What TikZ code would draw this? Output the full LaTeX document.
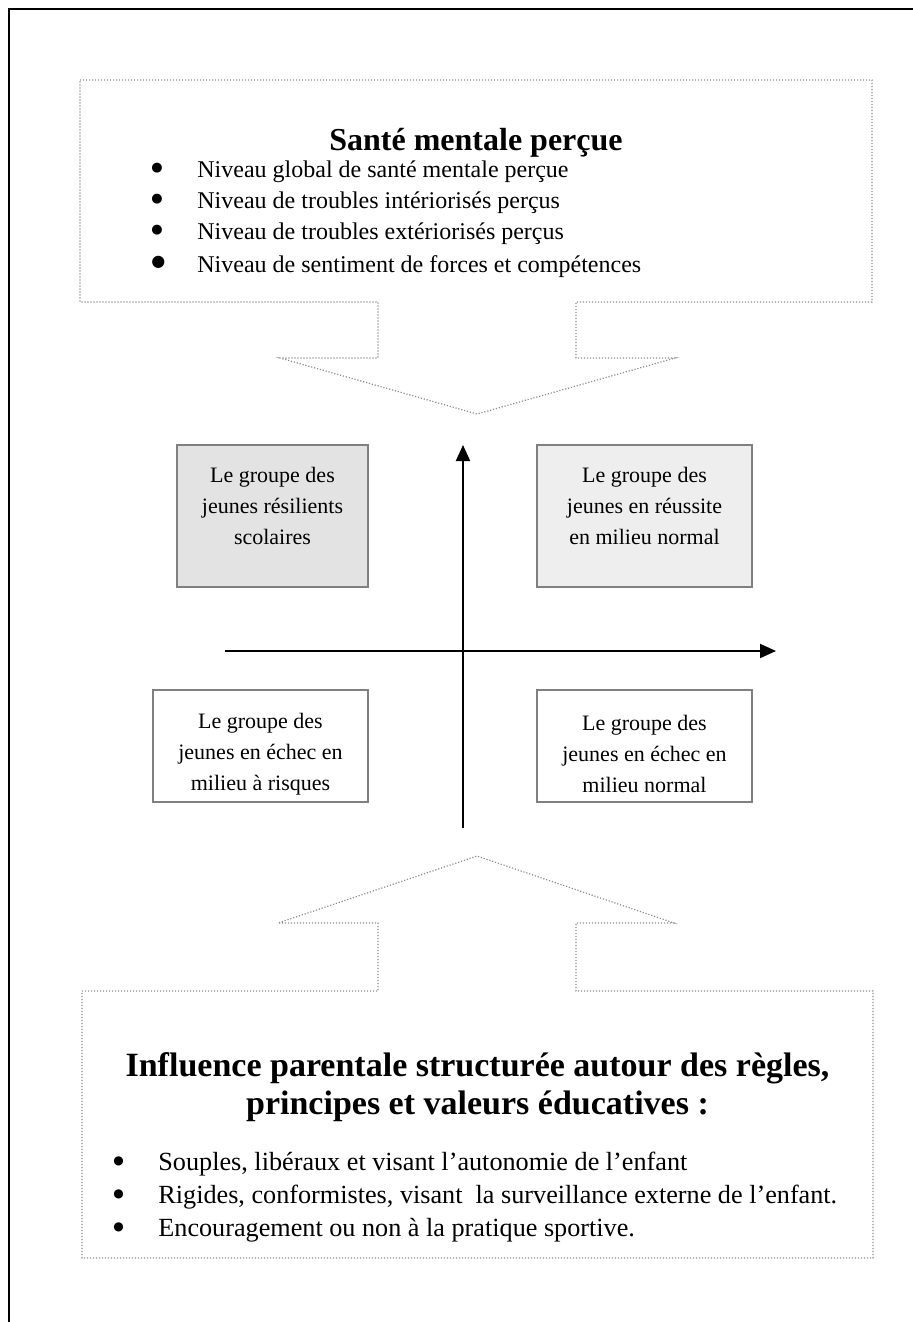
\documentclass[tikz,border=0pt]{standalone}
\usepackage{fontspec}
\setmainfont{Liberation Serif}
\newfontfamily\symfont{DejaVu Sans}
\usetikzlibrary{arrows.meta}
\newcommand\blt[1]{\raisebox{2.6pt}{\symfont\fontsize{#1}{0}\selectfont ●}}

\begin{document}
\begin{tikzpicture}[x=0.5pt,y=-0.5pt,
  callout/.style={draw=gray!90, line width=0.6pt, dash pattern=on 0.6pt off 0.9pt},
  groupbox/.style={draw=gray, line width=0.7pt},
  grouptext/.style={align=center, font=\fontsize{11}{15.5}\selectfont},
  axis/.style={line width=1pt, -{Triangle[length=8pt,width=7pt]}}]
\useasboundingbox (0,0) rectangle (913,1322);
% page frame
\draw[line width=1.2pt] (9,1322) -- (9,9) -- (913,9);

% top callout, pointing down
\draw[callout] (80,80) -- (872,80) -- (872,302) -- (576,302) -- (576,358) -- (675,358)
  -- (477,414) -- (280,358) -- (378,358) -- (378,302) -- (80,302) -- cycle;
\node[anchor=base, font=\bfseries\fontsize{16}{19}\selectfont] (santetitle) at (476,150) {Santé mentale perçue};
\node[anchor=base west, inner sep=0, font=\fontsize{12}{15.5}\selectfont] (santelist) at (151,177) {%
  \begin{tabular}[t]{@{}p{23pt}@{}l@{}}
  \blt{6.5} & Niveau global de santé mentale perçue\\
  \blt{6.5} & Niveau de troubles intériorisés perçus\\
  \blt{6.5} & Niveau de troubles extériorisés perçus\\[1pt]
  \blt{8} & Niveau de sentiment de forces et compétences
  \end{tabular}};

% the four groups
\node[groupbox, fill=gray!22, minimum width=95.5pt, minimum height=71pt] (resil) at (272.5,516) {};
\node[grouptext] (resiltxt) at (272.5,506) {Le groupe des\\jeunes résilients\\scolaires};
\node[groupbox, fill=gray!13, minimum width=107.5pt, minimum height=71pt] (reussite) at (644.5,516) {};
\node[grouptext] (reussitetxt) at (644.5,506) {Le groupe des\\jeunes en réussite\\en milieu normal};
\node[groupbox, minimum width=107.5pt, minimum height=56pt] (echecrisque) at (260.5,746) {};
\node[grouptext] (echecrisquetxt) at (260.5,754) {Le groupe des\\jeunes en échec en\\milieu à risques};
\node[groupbox, minimum width=107.5pt, minimum height=56pt] (echecnormal) at (644.5,746) {};
\node[grouptext] (echecnormaltxt) at (644.5,754) {Le groupe des\\jeunes en échec en\\milieu normal};

% axes
\coordinate (ybot) at (463,828);
\coordinate (ytop) at (463,445);
\coordinate (xleft) at (225,651);
\coordinate (xright) at (776,651);
\draw[axis] (ybot) -- (ytop);
\draw[axis] (xleft) -- (xright);

% bottom callout, pointing up
\draw[callout] (82,991) -- (378,991) -- (378,923) -- (278,923) -- (477,856) -- (674,923)
  -- (576,923) -- (576,991) -- (873,991) -- (873,1258) -- (82,1258) -- cycle;
\node[align=center, font=\bfseries\fontsize{17}{19}\selectfont] (influence) at (477.5,1087)
  {Influence parentale structurée autour des règles,\\principes et valeurs éducatives :};
\node[anchor=base west, inner sep=0, font=\fontsize{13.1}{16.5}\selectfont] (influencelist) at (113,1170) {%
  \begin{tabular}[t]{@{}p{22.5pt}@{}l@{}}
  \blt{6} & Souples, libéraux et visant l’autonomie de l’enfant\\
  \blt{6} & Rigides, conformistes, visant~ la surveillance externe de l’enfant.\\
  \blt{6} & Encouragement ou non à la pratique sportive.
  \end{tabular}};
\end{tikzpicture}
\end{document}
